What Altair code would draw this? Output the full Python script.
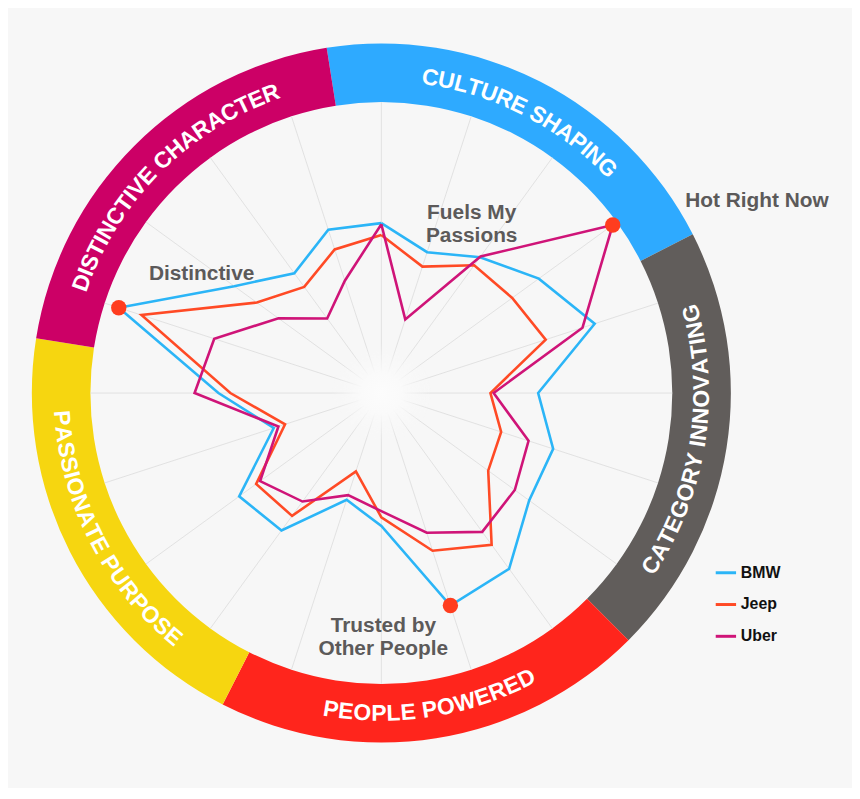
import math
import altair as alt
import pandas as pd

# ---------------- data ----------------
spokes = list(range(20))  # 20 radial attributes, 18 degrees apart, clockwise from top
series_names = ["BMW", "Jeep", "Uber"]
series_colors = ["#2bb5f7", "#ff4a25", "#cf1478"]

bmw = [58.4, 50.9, 57.7, 66.9, 77.1, 53.9, 62.1, 62.8, 74.7, 76.8,
       45.7, 38.6, 58.4, 60.4, 38.9, 56.0, 94.9, 62.5, 50.9, 59.0]
jeep = [54.3, 45.7, 54.3, 55.6, 59.4, 37.5, 43.3, 45.4, 64.5, 57.0,
        42.7, 28.3, 52.2, 53.2, 34.8, 51.9, 86.7, 52.9, 45.1, 51.9]
uber = [58.0, 26.6, 58.0, 98.3, 72.7, 38.6, 53.2, 56.7, 59.0, 50.5,
        40.6, 36.9, 46.1, 51.5, 37.2, 64.2, 60.4, 43.7, 31.7, 40.6]

segments = ["CULTURE SHAPING", "CATEGORY INNOVATING", "PEOPLE POWERED",
            "PASSIONATE PURPOSE", "DISTINCTIVE CHARACTER"]
segment_colors = ["#2eaaff", "#615d5b", "#ff251c", "#f6d610", "#cc0066"]

# highlighted points: (series, spoke)
highlight_series = ["BMW", "Uber", "BMW"]
highlight_spokes = [16, 3, 9]

annotations = ["Fuels My\nPassions", "Hot Right Now", "Distinctive", "Trusted by\nOther People"]
annotation_x = [91, 306, -181, 2]
annotation_y = [181, 193, 120, -235]
annotation_align = ["center", "left", "center", "center"]

# ---------------- geometry ----------------
R_IN = 293      # radius of value 100 / inner edge of ring (px)
R_OUT = 352     # outer edge of ring (px)
R_MID = 322
STEP = 360 / len(spokes)
FS_RING = 23

rows = []
for name, vals in zip(series_names, [bmw, jeep, uber]):
    for k, v in enumerate(vals + [vals[0]]):
        rows.append({"series": name, "k": k, "value": v})
lines_df = pd.DataFrame(rows)

val_lookup = {n: v for n, v in zip(series_names, [bmw, jeep, uber])}
hl_df = pd.DataFrame({
    "series": highlight_series,
    "k": highlight_spokes,
    "value": [val_lookup[s][k] for s, k in zip(highlight_series, highlight_spokes)],
})

spoke_df = pd.DataFrame({"k": spokes})

seg_df = pd.DataFrame({
    "segment": segments,
    "start": [-STEP / 2 + i * 4 * STEP for i in range(len(segments))],
})
seg_df["end"] = seg_df["start"] + 4 * STEP

# character layout of the curved ring titles (Arial/Liberation Bold advance widths)
W = {"A": 722, "B": 722, "C": 722, "D": 722, "E": 667, "F": 611, "G": 778, "H": 722,
     "I": 278, "J": 556, "K": 722, "L": 611, "M": 833, "N": 722, "O": 778, "P": 667,
     "Q": 778, "R": 722, "S": 667, "T": 611, "U": 722, "V": 667, "W": 944, "X": 667,
     "Y": 667, "Z": 611, " ": 278}
char_rows = []
for i, label in enumerate(segments):
    center = math.radians(seg_df["start"][i] + 2 * STEP)
    widths = [W[c] * FS_RING / 1000 for c in label]
    total = sum(widths)
    span = total / R_MID
    bottom = 60 < math.degrees(center) % 360 < 300
    cum = 0
    for c, w in zip(label, widths):
        off = (cum + w / 2) / R_MID
        cum += w
        if c == " ":
            continue
        if bottom:
            th = center + span / 2 - off
            rot = (math.degrees(th) - 180) % 360
        else:
            th = center - span / 2 + off
            rot = math.degrees(th) % 360
        char_rows.append({"ch": c, "theta": th, "rot": rot})
chars_df = pd.DataFrame(char_rows)

ann_df = pd.DataFrame({"label": annotations, "ax": annotation_x, "ay": annotation_y,
                       "align": annotation_align})

# ---------------- scales ----------------
xscale = alt.Scale(domain=[-371, 469], nice=False, zero=False)
yscale = alt.Scale(domain=[-390, 380], nice=False, zero=False)

def X(f):
    return alt.X(f, type="quantitative", scale=xscale, axis=None)

def Y(f):
    return alt.Y(f, type="quantitative", scale=yscale, axis=None)

polar = [
    ("ang", f"datum.k * {STEP} * PI / 180"),
    ("px", f"datum.value / 100 * {R_IN} * sin(datum.ang)"),
    ("py", f"datum.value / 100 * {R_IN} * cos(datum.ang)"),
]

def with_polar(ch):
    for name, expr in polar:
        ch = ch.transform_calculate(**{name: expr})
    return ch

ring = alt.Chart(seg_df).transform_calculate(
    t0="datum.start * PI / 180", t1="datum.end * PI / 180"
).mark_arc(radius=R_OUT, radius2=R_IN).encode(
    x=alt.X(datum=0, type="quantitative", scale=xscale, axis=None),
    y=alt.Y(datum=0, type="quantitative", scale=yscale, axis=None),
    theta=alt.Theta("t0:Q", scale=None),
    theta2=alt.Theta2("t1:Q"),
    fill=alt.Fill("segment:N", scale=alt.Scale(domain=segments, range=segment_colors), legend=None),
)

spoke_layer = with_polar(alt.Chart(spoke_df).transform_calculate(value="100"))
spoke_layer = spoke_layer.transform_calculate(zero="0").mark_rule(
    color="#dcdcdc", strokeWidth=0.8
).encode(x=X("zero"), y=Y("zero"), x2="px:Q", y2="py:Q")

glow = alt.Chart(pd.DataFrame({"c": [0]})).mark_arc(
    radius=50,
    fill=alt.RadialGradient(
        gradient="radial",
        stops=[alt.GradientStop(color="#fcfcfc", offset=0),
               alt.GradientStop(color="#fafafa", offset=0.4),
               alt.GradientStop(color="rgba(247,247,247,0)", offset=1)],
    ),
).encode(
    x=alt.X(datum=0, type="quantitative", scale=xscale, axis=None),
    y=alt.Y(datum=0, type="quantitative", scale=yscale, axis=None),
    theta=alt.value(0), theta2=alt.value(2 * math.pi),
)

line_layer = with_polar(alt.Chart(lines_df)).mark_line(strokeWidth=2.6, strokeJoin="miter").encode(
    x=X("px"), y=Y("py"),
    order=alt.Order("k:Q"),
    color=alt.Color(
        "series:N",
        scale=alt.Scale(domain=series_names, range=series_colors),
        legend=alt.Legend(
            orient="none", legendX=706, legendY=549, title=None,
            symbolType="stroke", symbolSize=420, symbolStrokeWidth=3,
            labelFont="Liberation Sans", labelFontWeight="bold", labelFontSize=16,
            labelColor="#111111", rowPadding=12, labelOffset=3,
        ),
    ),
)

dot_layer = with_polar(alt.Chart(hl_df)).mark_circle(size=240, color="#ff3d1f", opacity=1).encode(
    x=X("px"), y=Y("py")
)

char_layer = alt.Chart(chars_df).transform_calculate(
    px=f"{R_MID} * sin(datum.theta)", py=f"{R_MID} * cos(datum.theta)"
).mark_text(
    font="Liberation Sans", fontWeight="bold", fontSize=FS_RING, color="white",
    align="center", baseline="alphabetic", dy=8,
).encode(x=X("px"), y=Y("py"), text="ch:N", angle=alt.Angle("rot:Q", scale=None))

ann_center = alt.Chart(ann_df).transform_filter("datum.align == 'center'").mark_text(
    font="Liberation Sans", fontWeight="bold", fontSize=21, color="#5c5a5a",
    align="center", baseline="middle", lineBreak="\n", lineHeight=23,
).encode(x=X("ax"), y=Y("ay"), text="label:N")

ann_left = alt.Chart(ann_df).transform_filter("datum.align == 'left'").mark_text(
    font="Liberation Sans", fontWeight="bold", fontSize=21, color="#5c5a5a",
    align="left", baseline="middle",
).encode(x=X("ax"), y=Y("ay"), text="label:N")

chart = alt.layer(
    ring, spoke_layer, glow, line_layer, dot_layer, char_layer, ann_center, ann_left
).properties(width=840, height=770, background="#f7f7f7").configure_view(stroke=None)

chart.save("out.html", embed_options={"renderer": "svg", "actions": False})
